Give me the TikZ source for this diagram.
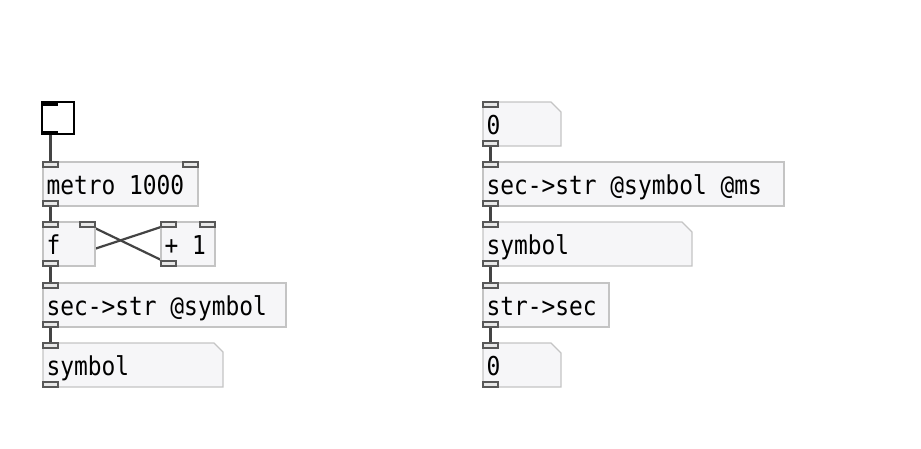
\documentclass[tikz,border=0pt]{standalone}
\usepackage{fontspec}
\usepackage{tikz}
\usepackage{xcolor}
\newfontfamily\pdfont[FakeStretch=0.88]{DejaVu Sans Mono}
\definecolor{boxline}{HTML}{C4C4C4}
\definecolor{boxfill}{HTML}{F6F6F8}
\definecolor{portline}{HTML}{585858}
\definecolor{portfill}{HTML}{E8E8E8}
\definecolor{wirecol}{HTML}{444444}
\pgfdeclarelayer{wires}
\pgfsetlayers{wires,main}

\begin{document}
\begin{tikzpicture}[x=1pt,y=-1pt]
\tikzstyle{every node}+=[inner sep=0pt,outer sep=0pt]
\tikzstyle{obj}=[rectangle,anchor=north west,minimum height=44pt,draw=boxline,fill=boxfill,line width=1.3pt]
\tikzstyle{atom}=[rectangle,anchor=north west,minimum height=44pt]
\tikzstyle{atomline}=[draw=boxline,fill=boxfill,line width=1.3pt,line join=miter]
\tikzstyle{txt}=[anchor=base west,xshift=3.5pt,yshift=12pt,font=\pdfont\fontsize{26pt}{30pt}\selectfont]
\tikzstyle{inl}=[rectangle,anchor=north west,minimum width=15pt,minimum height=5pt,draw=portline,fill=portfill,line width=1.3pt]
\tikzstyle{outl}=[inl,anchor=south west]
\tikzstyle{wire}=[draw=wirecol,line width=2.2pt]
\useasboundingbox (0,0) rectangle (921,448);
% left patch
\node[rectangle,anchor=north west,minimum width=32pt,minimum height=32pt,draw=black,fill=white,line width=1.6pt] (bang) at (42,102) {};
\fill[black] (bang.north west) rectangle ([xshift=16pt,yshift=-3.5pt]bang.north west);
\fill[black] (bang.south west) rectangle ([xshift=16pt,yshift=3.5pt]bang.south west);
\coordinate (bang-o) at ([xshift=8.5pt]bang.south west);
\node[obj,minimum width=155pt] (metro) at (43,162) {};
\node[obj,minimum width=52pt] (f) at (43,222) {};
\node[obj,minimum width=54pt] (plus) at (161,222) {};
\node[obj,minimum width=243pt] (secstr) at (43,283) {};
\node[atom,minimum width=180pt] (symL) at (43,343) {};
\draw[atomline] (symL.north west) -- ([xshift=-9pt]symL.north east) -- ([yshift=-9pt]symL.north east) -- (symL.south east) -- (symL.south west) -- cycle;
% right patch
\node[atom,minimum width=78pt] (zeroA) at (483,102) {};
\draw[atomline] (zeroA.north west) -- ([xshift=-10pt]zeroA.north east) -- ([yshift=-10pt]zeroA.north east) -- (zeroA.south east) -- (zeroA.south west) -- cycle;
\node[obj,minimum width=301pt] (secstrms) at (483,162) {};
\node[atom,minimum width=209pt] (symR) at (483,222) {};
\draw[atomline] (symR.north west) -- ([xshift=-10pt]symR.north east) -- ([yshift=-10pt]symR.north east) -- (symR.south east) -- (symR.south west) -- cycle;
\node[obj,minimum width=126pt] (strsec) at (483,283) {};
\node[atom,minimum width=78pt] (zeroB) at (483,343) {};
\draw[atomline] (zeroB.north west) -- ([xshift=-10pt]zeroB.north east) -- ([yshift=-10pt]zeroB.north east) -- (zeroB.south east) -- (zeroB.south west) -- cycle;
% texts
\node[txt] at (metro.south west) {metro 1000};
\node[txt] at (f.south west) {f};
\node[txt] at (plus.south west) {+ 1};
\node[txt] at (secstr.south west) {sec->str @symbol};
\node[txt] at (symL.south west) {symbol};
\node[txt] at (zeroA.south west) {0};
\node[txt] at (secstrms.south west) {sec->str @symbol @ms};
\node[txt] at (symR.south west) {symbol};
\node[txt] at (strsec.south west) {str->sec};
\node[txt] at (zeroB.south west) {0};
% inlets and outlets
\node[inl] (metro-i0) at (metro.north west) {};
\node[inl,anchor=north east] (metro-i1) at (metro.north east) {};
\node[outl] (metro-o0) at (metro.south west) {};
\node[inl] (f-i0) at (f.north west) {};
\node[inl,anchor=north east] (f-i1) at (f.north east) {};
\node[outl] (f-o0) at (f.south west) {};
\node[inl] (plus-i0) at (plus.north west) {};
\node[inl,anchor=north east] (plus-i1) at (plus.north east) {};
\node[outl] (plus-o0) at (plus.south west) {};
\node[inl] (secstr-i0) at (secstr.north west) {};
\node[outl] (secstr-o0) at (secstr.south west) {};
\node[inl] (symL-i0) at (symL.north west) {};
\node[outl] (symL-o0) at (symL.south west) {};
\node[inl] (zeroA-i0) at (zeroA.north west) {};
\node[outl] (zeroA-o0) at (zeroA.south west) {};
\node[inl] (secstrms-i0) at (secstrms.north west) {};
\node[outl] (secstrms-o0) at (secstrms.south west) {};
\node[inl] (symR-i0) at (symR.north west) {};
\node[outl] (symR-o0) at (symR.south west) {};
\node[inl] (strsec-i0) at (strsec.north west) {};
\node[outl] (strsec-o0) at (strsec.south west) {};
\node[inl] (zeroB-i0) at (zeroB.north west) {};
\node[outl] (zeroB-o0) at (zeroB.south west) {};
% connections
\begin{pgfonlayer}{wires}
\draw[wire] (bang-o) -- (metro-i0.center);
\draw[wire] (metro-o0.center) -- (f-i0.center);
\draw[wire] (f-o0.center) -- (plus-i0.center);
\draw[wire] (plus-o0.center) -- (f-i1.center);
\draw[wire] (f-o0.center) -- (secstr-i0.center);
\draw[wire] (secstr-o0.center) -- (symL-i0.center);
\draw[wire] (zeroA-o0.center) -- (secstrms-i0.center);
\draw[wire] (secstrms-o0.center) -- (symR-i0.center);
\draw[wire] (symR-o0.center) -- (strsec-i0.center);
\draw[wire] (strsec-o0.center) -- (zeroB-i0.center);
\end{pgfonlayer}
\end{tikzpicture}
\end{document}
